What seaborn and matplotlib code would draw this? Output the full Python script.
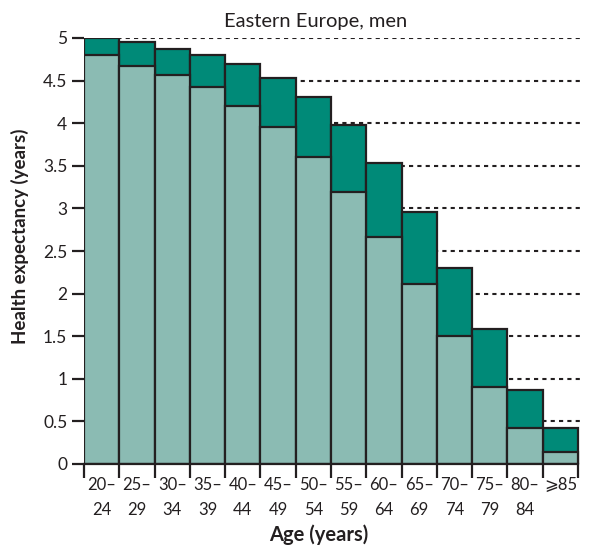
import matplotlib
matplotlib.use("Agg")
import matplotlib.pyplot as plt
import numpy as np
import pandas as pd
import seaborn as sns

age_groups = ["20–\n24", "25–\n29", "30–\n34", "35–\n39", "40–\n44", "45–\n49", "50–\n54",
              "55–\n59", "60–\n64", "65–\n69", "70–\n74", "75–\n79", "80–\n84", "⩾85"]
total_years = [5.00, 4.95, 4.87, 4.80, 4.70, 4.53, 4.31, 3.98, 3.53, 2.96, 2.30, 1.58, 0.87, 0.42]
healthy_years = [4.80, 4.67, 4.56, 4.42, 4.20, 3.96, 3.60, 3.19, 2.66, 2.11, 1.50, 0.90, 0.42, 0.14]
y_ticks = [0, 0.5, 1, 1.5, 2, 2.5, 3, 3.5, 4, 4.5, 5]
y_tick_labels = ["0", "0.5", "1", "1.5", "2", "2.5", "3", "3.5", "4", "4.5", "5"]

DARK = "#008a78"
LIGHT = "#8bbbb3"
EDGE = "#231f20"

sns.set_theme(style="white")
plt.rcParams["font.family"] = ["Lato", "DejaVu Sans"]

df = pd.DataFrame({"age": age_groups, "total": total_years, "healthy": healthy_years})

fig = plt.figure(figsize=(5.9, 5.51), dpi=100)
ax = fig.add_axes([84 / 590, 1 - 464 / 551, (583 - 84) / 590, (464 - 38) / 551])

sns.barplot(data=df, x="age", y="total", color=DARK, width=1.0, saturation=1,
            edgecolor=EDGE, linewidth=1.6, ax=ax, zorder=3)
sns.barplot(data=df, x="age", y="healthy", color=LIGHT, width=1.0, saturation=1,
            edgecolor=EDGE, linewidth=1.6, ax=ax, zorder=4)

n = len(age_groups)
ax.set_xlim(-0.5, n - 0.5 + 5 / 35.6)
ax.set_ylim(0, 5)

for y in y_ticks[1:]:
    ax.axhline(y, color=EDGE, linestyle=(0, (2, 2)), linewidth=1.5, zorder=1)

ax.set_yticks(y_ticks)
ax.set_yticklabels(y_tick_labels, fontsize=12.5, color="#231f20")
ax.set_xticks(np.arange(n + 1) - 0.5)
ax.set_xticklabels([])
ax.set_xticks(np.arange(n), minor=True)
ax.set_xticklabels(age_groups, minor=True, fontsize=12, color="#231f20", linespacing=1.75,
                   va="top")
ax.tick_params(axis="x", which="major", direction="out", length=10, width=1.6, color=EDGE,
               bottom=True)
ax.tick_params(axis="x", which="minor", length=0, pad=9, bottom=True)
ax.tick_params(axis="y", direction="out", length=9, width=1.6, color=EDGE, left=True, pad=3)

for side in ["top", "right", "left"]:
    ax.spines[side].set_visible(False)
ax.spines["bottom"].set_color(EDGE)
ax.spines["bottom"].set_linewidth(1.6)
ax.spines["bottom"].set_bounds(-0.5, n - 0.5)
ax.spines["bottom"].set_zorder(5)

ax.set_xlabel("Age (years)", fontsize=14.5, fontweight="bold", color="#231f20")
ax.xaxis.set_label_coords(0.47, -0.143)
ax.set_ylabel("Health expectancy (years)", fontsize=13.5, fontweight="bold", color="#231f20")
ax.yaxis.set_label_coords(-0.11, 0.535)
ax.set_title("Eastern Europe, men", fontsize=14.5, color="#231f20", x=0.465, pad=8)

fig.savefig("out.png", dpi=100)
